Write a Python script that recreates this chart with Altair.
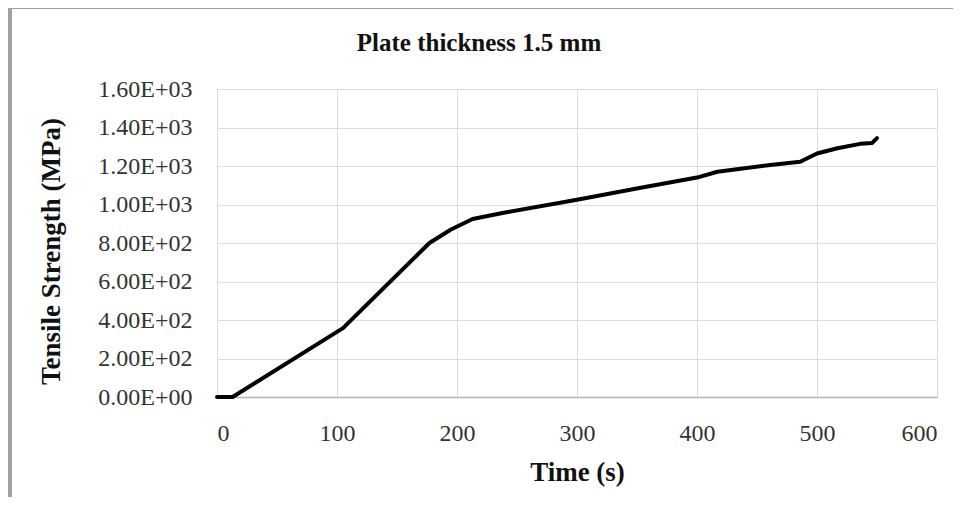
import altair as alt
import pandas as pd

# Data
time_s = [0, 13, 105, 177, 195, 213, 240, 300, 352, 400, 417, 461, 486, 500, 517, 536, 546, 550]
tensile_mpa = [0, 0, 358, 800, 870, 925, 958, 1025, 1086, 1140, 1170, 1205, 1222, 1265, 1292, 1315, 1320, 1345]
x_ticks = [0, 100, 200, 300, 400, 500, 600]
y_ticks = [0, 200, 400, 600, 800, 1000, 1200, 1400, 1600]

df = pd.DataFrame({"t": time_s, "s": tensile_mpa})

FONT = "Liberation Serif"
GRID = "#b4b4b4"

line = alt.Chart(df).mark_line(color="black", strokeWidth=4, interpolate="linear",
                                strokeCap="round", strokeJoin="round").encode(
    x=alt.X("t:Q", scale=alt.Scale(domain=[0, 600], nice=False),
            axis=alt.Axis(values=x_ticks, title="Time (s)", grid=True, ticks=False,
                          domain=True, domainColor=GRID, domainWidth=1.5,
                          labelPadding=24, labelFontSize=24, labelFont=FONT,
                          labelColor="#333333", titleFont=FONT, titleFontSize=27,
                          titleFontWeight="bold", titleColor="#111111",
                          titleX=360, titleY=83, titleBaseline="alphabetic")),
    y=alt.Y("s:Q", scale=alt.Scale(domain=[0, 1600], nice=False),
            axis=alt.Axis(values=y_ticks, title="Tensile Strength (MPa)", grid=True,
                          ticks=False, domain=False, labelPadding=25, labelFontSize=24,
                          labelFont=FONT, labelColor="#333333",
                          labelExpr="replace(format(datum.value, '.2e'), 'e+', 'E+0')",
                          titleFont=FONT, titleFontSize=27, titleFontWeight="bold",
                          titleColor="#111111", titleX=-158, titleY=162,
                          titleBaseline="alphabetic", titleAngle=270)),
)

# outer chart frame (top and left edges)
frame_left = alt.Chart(df).mark_rule(color="#a0a0a0", strokeWidth=2.5).encode(
    x=alt.value(-207), y=alt.value(-82), y2=alt.value(430))
frame_top = alt.Chart(df).mark_rule(color="#a0a0a0", strokeWidth=2.5).encode(
    x=alt.value(-207), x2=alt.value(740), y=alt.value(-82))

chart = alt.layer(frame_left, frame_top, line).properties(
    width=720, height=308,
    autosize=alt.AutoSizeParams(type="none"),
    padding={"left": 209, "top": 81, "right": 16, "bottom": 100},
    title=alt.Title("Plate thickness 1.5 mm", font=FONT, fontSize=25, fontWeight="bold",
                    color="#111111", anchor="middle", dx=-98, dy=50, offset=0),
).configure_view(stroke=GRID, strokeWidth=1.5).configure_axis(
    gridColor=GRID, gridWidth=1.5
).configure(background="white")

chart.save("out.html", embed_options={"renderer": "svg", "actions": False})
